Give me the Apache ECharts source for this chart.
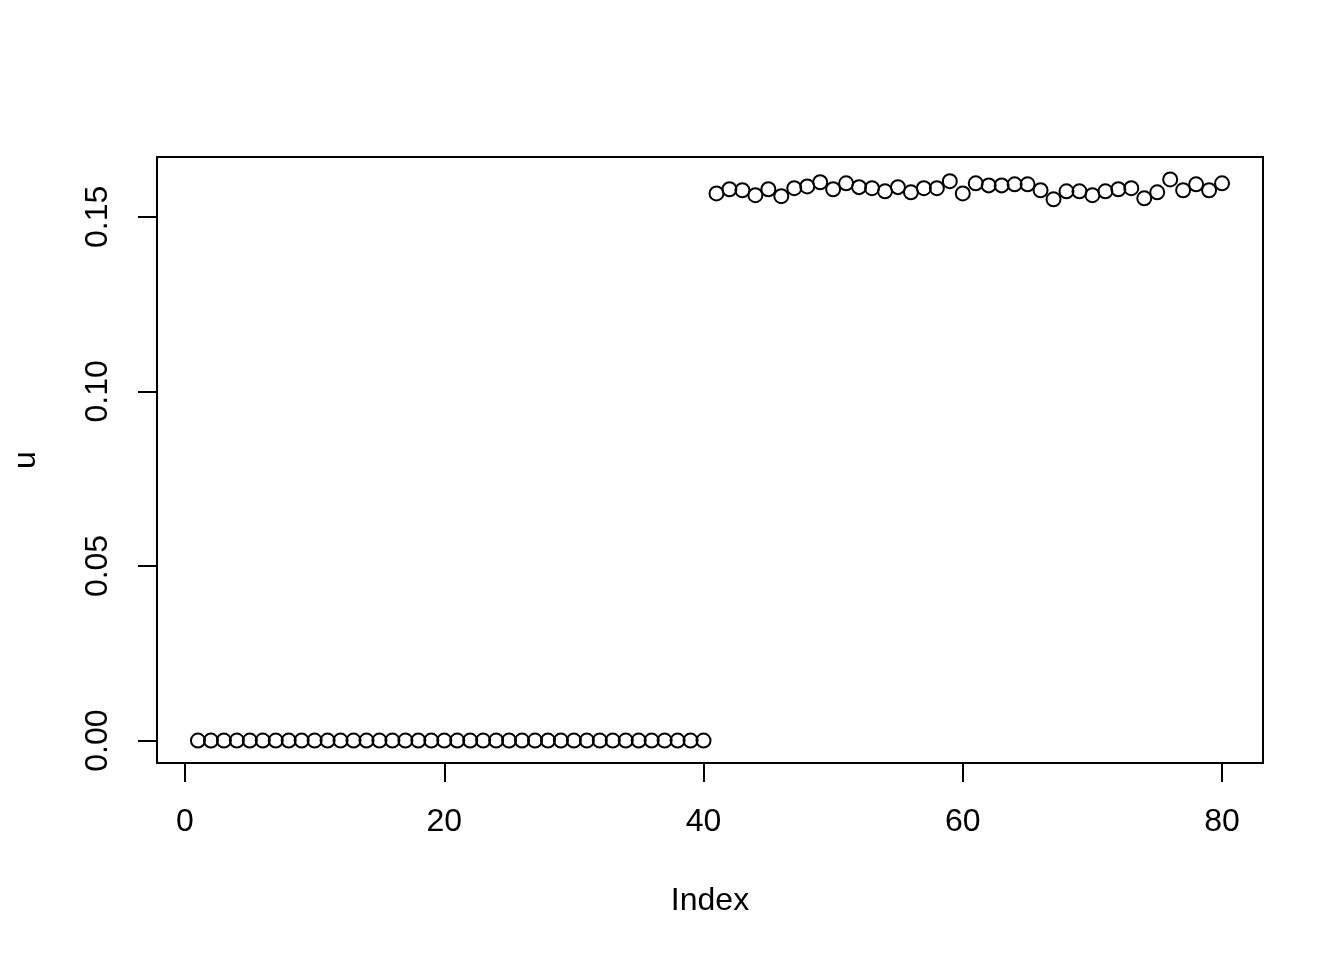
<!DOCTYPE html>
<html>
<head>
<meta charset="utf-8">
<script src="https://cdn.jsdelivr.net/npm/echarts@6/dist/echarts.min.js"></script>
<style>html,body{margin:0;padding:0;background:#fff}#c{width:1344px;height:960px}</style>
</head>
<body>
<div id="c"></div>
<script>
// values u[1..80]
const uFirst = [0,0,0,0,0,0,0,0,0,0, 0,0,0,0,0,0,0,0,0,0, 0,0,0,0,0,0,0,0,0,0, 0,0,0,0,0,0,0,0,0,0];
const uSecond = [0.1567,0.1579,0.1576,0.1562,0.1579,0.1559,0.1582,0.1587,0.1599,0.1579,
                 0.1596,0.1585,0.1582,0.1573,0.1585,0.1570,0.1582,0.1582,0.1602,0.1567,
                 0.1596,0.1590,0.1590,0.1593,0.1593,0.1576,0.1550,0.1573,0.1573,0.1562,
                 0.1573,0.1579,0.1582,0.1553,0.1570,0.1607,0.1576,0.1593,0.1576,0.1596];
const xTicks = [0, 20, 40, 60, 80];
const yTicks = [0, 0.05, 0.10, 0.15];
const xName = 'Index';
const yName = 'u';

const u = uFirst.concat(uSecond);
const pts = u.map((v, i) => [i + 1, v]);
const n = u.length;
const xExt = (n - 1) * 0.04;
const yMaxV = Math.max(...u), yMinV = Math.min(...u);
const yExt = (yMaxV - yMinV) * 0.04;

const font = 'Liberation Sans, Arial, Helvetica, sans-serif';
const chart = echarts.init(document.getElementById('c'));
chart.setOption({
  backgroundColor: '#fff',
  animation: false,
  grid: { left: 157, right: 81, top: 157, bottom: 197, show: true, borderColor: '#000', borderWidth: 2, backgroundColor: 'transparent' },
  xAxis: {
    type: 'value', min: 1 - xExt, max: n + xExt,
    name: xName, nameLocation: 'middle', nameGap: 122,
    nameTextStyle: { fontFamily: font, fontSize: 32, color: '#000', lineHeight: 32 },
    axisLine: { show: false, onZero: false },
    splitLine: { show: false },
    axisTick: { show: true, inside: false, customValues: xTicks, length: 19, lineStyle: { color: '#000', width: 2 } },
    axisLabel: { customValues: xTicks, margin: 43, fontFamily: font, fontSize: 32, color: '#000', lineHeight: 32 }
  },
  yAxis: {
    type: 'value', min: yMinV - yExt, max: yMaxV + yExt,
    name: yName, nameLocation: 'middle', nameGap: 115, nameRotate: 90,
    nameTextStyle: { fontFamily: font, fontSize: 32, color: '#000', lineHeight: 32 },
    axisLine: { show: false, onZero: false },
    splitLine: { show: false },
    axisTick: { show: true, inside: false, customValues: yTicks, length: 19, lineStyle: { color: '#000', width: 2 } },
    axisLabel: { customValues: yTicks, rotate: 90, margin: 43, fontFamily: font, fontSize: 32, color: '#000', lineHeight: 32,
      formatter: v => Number(v).toFixed(2) }
  },
  series: [{
    type: 'scatter',
    data: pts,
    symbol: 'circle',
    symbolSize: 14,
    itemStyle: { color: 'rgba(0,0,0,0)', borderColor: '#000', borderWidth: 2, opacity: 1 },
    emphasis: { disabled: true }
  }]
});
</script>
</body>
</html>
